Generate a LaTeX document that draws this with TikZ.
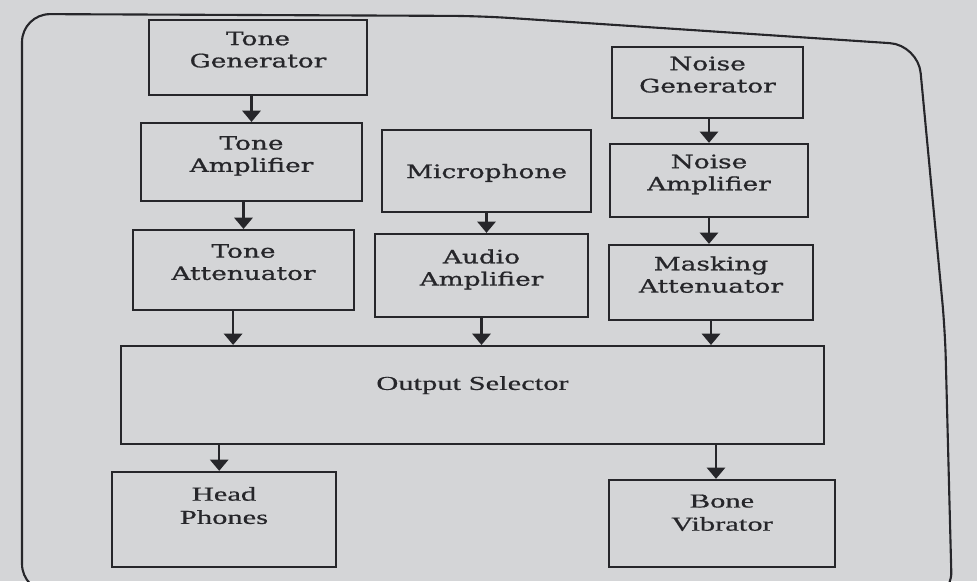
\documentclass[tikz,border=0pt]{standalone}
\usepackage{fontspec}
\setmainfont{Liberation Serif}
\newfontfamily\boxfont[FakeStretch=1.42,FakeBold=0.9]{DejaVu Serif}
\newfontfamily\lowfont[FakeStretch=1.55,FakeBold=0.6]{Liberation Serif}
\usetikzlibrary{arrows.meta}
\definecolor{paper}{RGB}{212,213,215}
\definecolor{ink}{RGB}{38,38,42}

\begin{document}
\begin{tikzpicture}[x=0.025cm,y=-0.025cm,
            blk/.style={rectangle,draw=ink,line width=1.5pt,align=center,
                        text=ink,inner sep=2pt,text depth=11.4pt,
                        font=\boxfont\fontsize{13.2}{15.8}\selectfont},
            lowblk/.style={blk,text depth=17pt,
                           font=\lowfont\fontsize{14}{16.5}\selectfont},
            arr/.style={-{Triangle[length=8pt,width=13pt]},ink,line width=1.5pt}]
            \path[use as bounding box,fill=paper] (0,0) rectangle (977,581);
            \draw[ink,line width=1.5pt,rounded corners=20]
                 (22,300) -- (22,14) -- (480,16) -- (918,45) -- (945,330)
                 -- (952,600) -- (22,592) -- cycle;
            \node[blk,minimum width=5.45cm,minimum height=1.88cm] (tgen) at (258,57.5)  {Tone\\Generator};
            \node[blk,minimum width=5.53cm,minimum height=1.95cm] (tamp) at (251.5,162) {Tone\\Amplifier};
            \node[blk,minimum width=5.53cm,minimum height=2.0cm]  (tatt) at (243.5,270) {Tone\\Attenuator};
            \node[blk,text depth=0pt,minimum width=5.23cm,minimum height=2.05cm] (mic) at (486.5,171) {Microphone};
            \node[blk,minimum width=5.33cm,minimum height=2.08cm] (aamp) at (481.5,275.5) {Audio\\Amplifier};
            \node[blk,minimum width=4.78cm,minimum height=1.78cm] (ngen) at (707.5,82.5) {Noise\\Generator};
            \node[blk,minimum width=4.95cm,minimum height=1.83cm] (namp) at (709,180.5) {Noise\\Amplifier};
            \node[blk,minimum width=5.1cm,minimum height=1.88cm]  (matt) at (711,282.5) {Masking\\Attenuator};
            \node[lowblk,minimum width=17.58cm,minimum height=2.45cm] (osel) at (472.5,395) {Output Selector};
            \node[lowblk,text depth=20pt,minimum width=5.6cm,minimum height=2.38cm] (hph) at (224,519.5) {Head\\Phones};
            \node[lowblk,text depth=15.5pt,minimum width=5.65cm,minimum height=2.18cm] (bvib) at (722,523.5) {Bone\\Vibrator};
            \draw[arr] (tamp.north |- tgen.south) -- (tamp.north);
            \draw[arr] (tatt.north |- tamp.south) -- (tatt.north);
            \draw[arr] (mic.south) -- (mic.south |- aamp.north);
            \draw[arr] (namp.north |- ngen.south) -- (namp.north);
            \draw[arr] (namp.south) -- (namp.south |- matt.north);
            \draw[arr] ([xshift=-0.26cm]tatt.south) -- ([xshift=-0.26cm]tatt.south |- osel.north);
            \draw[arr] (aamp.south) -- (aamp.south |- osel.north);
            \draw[arr] (matt.south) -- (matt.south |- osel.north);
            \draw[arr] ([xshift=-0.12cm]hph.north |- osel.south) -- ([xshift=-0.12cm]hph.north);
            \draw[arr] ([xshift=-0.15cm]bvib.north |- osel.south) -- ([xshift=-0.15cm]bvib.north);
        \end{tikzpicture}
\end{document}
